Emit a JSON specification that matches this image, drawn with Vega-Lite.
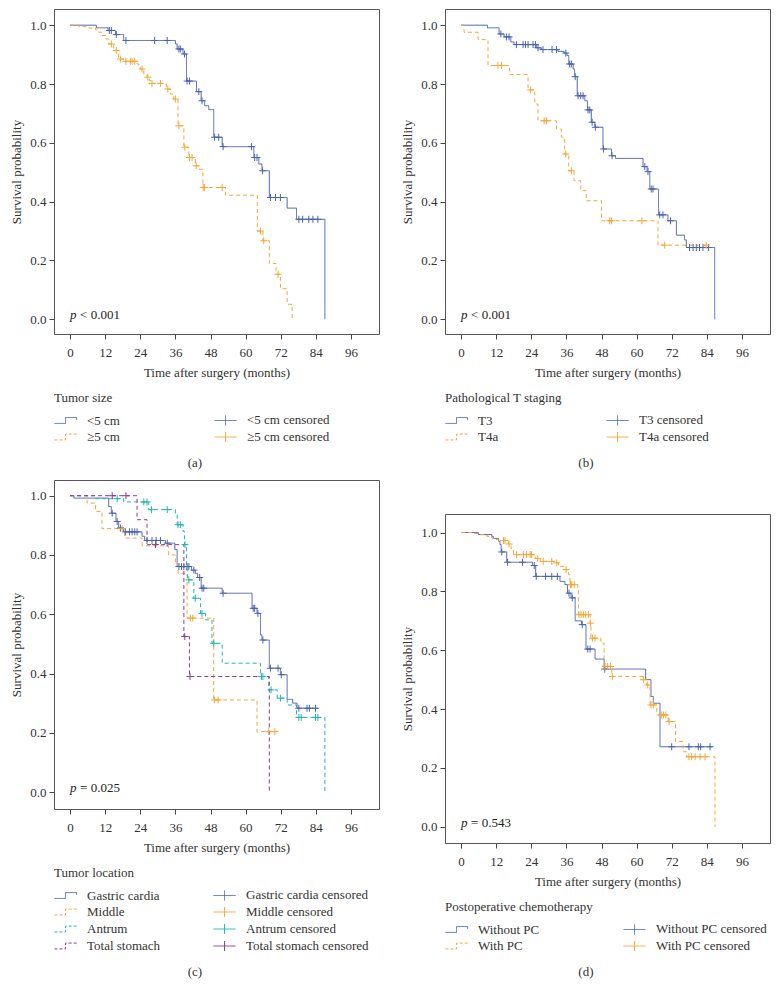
{
"$schema": "https://vega.github.io/schema/vega-lite/v6.json",
"background": "white",
"padding": {"left": 10, "top": 8, "right": 4, "bottom": 4},
"config": {
  "font": "Liberation Serif",
  "view": {"stroke": "#555", "strokeWidth": 1},
  "axis": {"domain": false, "grid": false, "tickColor": "#444", "tickSize": 5, "labelFontSize": 13, "labelColor": "#333", "titleFontSize": 13, "titleFontWeight": "normal", "titleColor": "#333", "labelPadding": 3, "titlePadding": 6},
  "axisX": {"labelPadding": 7, "titlePadding": 7},
  "legend": {"titleFontSize": 13, "titleFontWeight": "normal", "titleColor": "#333", "labelFontSize": 13, "labelColor": "#333", "rowPadding": 1, "labelOffset": 19, "titlePadding": 8, "offset": 13, "symbolSize": 169, "symbolStrokeWidth": 1},
  "title": {"fontSize": 13, "fontWeight": "normal", "color": "#333", "orient": "bottom", "anchor": "middle", "offset": 12, "frame": "bounds"},
  "text": {"fontSize": 13, "color": "#222", "font": "Liberation Serif"}
},
"resolve": {"scale": {"color": "independent", "strokeDash": "independent"}, "legend": {"color": "independent", "strokeDash": "independent"}},
"datasets": {
  "ac": [
    {"g":"<5 cm","t":0,"s":1},{"g":"<5 cm","t":9.0,"s":0.991},{"g":"<5 cm","t":13.0,"s":0.982},{"g":"<5 cm","t":15.5,"s":0.968},{"g":"<5 cm","t":18.3,"s":0.948},{"g":"<5 cm","t":36.0,"s":0.936},{"g":"<5 cm","t":36.6,"s":0.919},{"g":"<5 cm","t":38.6,"s":0.902},{"g":"<5 cm","t":39.8,"s":0.81},{"g":"<5 cm","t":43.2,"s":0.774},{"g":"<5 cm","t":44.8,"s":0.743},{"g":"<5 cm","t":46.0,"s":0.726},{"g":"<5 cm","t":47.4,"s":0.713},{"g":"<5 cm","t":49.1,"s":0.619},{"g":"<5 cm","t":52.0,"s":0.587},{"g":"<5 cm","t":62.8,"s":0.55},{"g":"<5 cm","t":64.5,"s":0.528},{"g":"<5 cm","t":65.6,"s":0.505},{"g":"<5 cm","t":68.1,"s":0.414},{"g":"<5 cm","t":74.2,"s":0.378},{"g":"<5 cm","t":77.4,"s":0.34},{"g":"<5 cm","t":87.1,"s":0},
    {"g":"≥5 cm","t":0,"s":1},{"g":"≥5 cm","t":3.0,"s":0.995},{"g":"≥5 cm","t":6.4,"s":0.99},{"g":"≥5 cm","t":8.7,"s":0.984},{"g":"≥5 cm","t":9.8,"s":0.976},{"g":"≥5 cm","t":10.9,"s":0.965},{"g":"≥5 cm","t":12.1,"s":0.953},{"g":"≥5 cm","t":13.2,"s":0.936},{"g":"≥5 cm","t":14.9,"s":0.914},{"g":"≥5 cm","t":16.6,"s":0.885},{"g":"≥5 cm","t":18.3,"s":0.877},{"g":"≥5 cm","t":22.9,"s":0.868},{"g":"≥5 cm","t":23.5,"s":0.859},{"g":"≥5 cm","t":24.0,"s":0.851},{"g":"≥5 cm","t":25.2,"s":0.834},{"g":"≥5 cm","t":26.3,"s":0.823},{"g":"≥5 cm","t":27.1,"s":0.812},{"g":"≥5 cm","t":27.7,"s":0.802},{"g":"≥5 cm","t":32.9,"s":0.783},{"g":"≥5 cm","t":34.3,"s":0.766},{"g":"≥5 cm","t":35.4,"s":0.749},{"g":"≥5 cm","t":36.9,"s":0.658},{"g":"≥5 cm","t":38.9,"s":0.585},{"g":"≥5 cm","t":40.6,"s":0.55},{"g":"≥5 cm","t":42.8,"s":0.522},{"g":"≥5 cm","t":44.0,"s":0.51},{"g":"≥5 cm","t":45.4,"s":0.448},{"g":"≥5 cm","t":53.1,"s":0.422},{"g":"≥5 cm","t":64.0,"s":0.30},{"g":"≥5 cm","t":65.9,"s":0.267},{"g":"≥5 cm","t":68.1,"s":0.19},{"g":"≥5 cm","t":70.4,"s":0.153},{"g":"≥5 cm","t":71.9,"s":0.104},{"g":"≥5 cm","t":74.2,"s":0.051},{"g":"≥5 cm","t":75.9,"s":0}
  ],
  "ax": [
    {"g":"<5 cm censored","t":13.4,"s":0.982},{"g":"<5 cm censored","t":14.1,"s":0.982},{"g":"<5 cm censored","t":15.8,"s":0.968},{"g":"<5 cm censored","t":19.1,"s":0.948},{"g":"<5 cm censored","t":28.9,"s":0.948},{"g":"<5 cm censored","t":33.2,"s":0.948},{"g":"<5 cm censored","t":37.2,"s":0.919},{"g":"<5 cm censored","t":37.7,"s":0.919},{"g":"<5 cm censored","t":39.1,"s":0.902},{"g":"<5 cm censored","t":40.0,"s":0.81},{"g":"<5 cm censored","t":40.8,"s":0.81},{"g":"<5 cm censored","t":44.0,"s":0.774},{"g":"<5 cm censored","t":45.1,"s":0.743},{"g":"<5 cm censored","t":49.4,"s":0.619},{"g":"<5 cm censored","t":50.8,"s":0.619},{"g":"<5 cm censored","t":52.3,"s":0.587},{"g":"<5 cm censored","t":62.0,"s":0.587},{"g":"<5 cm censored","t":63.1,"s":0.55},{"g":"<5 cm censored","t":63.9,"s":0.55},{"g":"<5 cm censored","t":65.8,"s":0.505},{"g":"<5 cm censored","t":68.5,"s":0.414},{"g":"<5 cm censored","t":70.2,"s":0.414},{"g":"<5 cm censored","t":71.9,"s":0.414},{"g":"<5 cm censored","t":78.2,"s":0.34},{"g":"<5 cm censored","t":79.5,"s":0.34},{"g":"<5 cm censored","t":81.6,"s":0.34},{"g":"<5 cm censored","t":83.0,"s":0.34},{"g":"<5 cm censored","t":84.7,"s":0.34},
    {"g":"≥5 cm censored","t":14.1,"s":0.936},{"g":"≥5 cm censored","t":15.8,"s":0.914},{"g":"≥5 cm censored","t":17.2,"s":0.885},{"g":"≥5 cm censored","t":19.1,"s":0.877},{"g":"≥5 cm censored","t":20.6,"s":0.877},{"g":"≥5 cm censored","t":21.2,"s":0.877},{"g":"≥5 cm censored","t":22.1,"s":0.877},{"g":"≥5 cm censored","t":24.6,"s":0.851},{"g":"≥5 cm censored","t":26.6,"s":0.823},{"g":"≥5 cm censored","t":28.0,"s":0.802},{"g":"≥5 cm censored","t":30.9,"s":0.802},{"g":"≥5 cm censored","t":33.4,"s":0.783},{"g":"≥5 cm censored","t":36.0,"s":0.749},{"g":"≥5 cm censored","t":37.2,"s":0.658},{"g":"≥5 cm censored","t":39.2,"s":0.585},{"g":"≥5 cm censored","t":40.8,"s":0.55},{"g":"≥5 cm censored","t":41.7,"s":0.55},{"g":"≥5 cm censored","t":43.1,"s":0.522},{"g":"≥5 cm censored","t":45.5,"s":0.448},{"g":"≥5 cm censored","t":46.0,"s":0.448},{"g":"≥5 cm censored","t":52.0,"s":0.448},{"g":"≥5 cm censored","t":65.1,"s":0.30},{"g":"≥5 cm censored","t":66.2,"s":0.267},{"g":"≥5 cm censored","t":71.1,"s":0.153}
  ],
  "bc": [
    {"g":"T3","t":0,"s":1},{"g":"T3","t":9.0,"s":0.991},{"g":"T3","t":13.0,"s":0.97},{"g":"T3","t":14.7,"s":0.96},{"g":"T3","t":17.0,"s":0.943},{"g":"T3","t":18.1,"s":0.934},{"g":"T3","t":25.7,"s":0.923},{"g":"T3","t":27.4,"s":0.917},{"g":"T3","t":33.1,"s":0.911},{"g":"T3","t":35.2,"s":0.905},{"g":"T3","t":36.2,"s":0.897},{"g":"T3","t":36.8,"s":0.868},{"g":"T3","t":38.3,"s":0.851},{"g":"T3","t":38.8,"s":0.825},{"g":"T3","t":39.7,"s":0.76},{"g":"T3","t":42.3,"s":0.743},{"g":"T3","t":43.2,"s":0.712},{"g":"T3","t":44.5,"s":0.67},{"g":"T3","t":45.7,"s":0.653},{"g":"T3","t":48.5,"s":0.579},{"g":"T3","t":51.4,"s":0.556},{"g":"T3","t":52.8,"s":0.547},{"g":"T3","t":62.2,"s":0.519},{"g":"T3","t":63.6,"s":0.502},{"g":"T3","t":64.5,"s":0.443},{"g":"T3","t":67.5,"s":0.355},{"g":"T3","t":70.7,"s":0.335},{"g":"T3","t":73.6,"s":0.286},{"g":"T3","t":76.4,"s":0.27},{"g":"T3","t":77.0,"s":0.244},{"g":"T3","t":86.7,"s":0},
    {"g":"T4a","t":0,"s":1},{"g":"T4a","t":1.0,"s":0.976},{"g":"T4a","t":5.8,"s":0.951},{"g":"T4a","t":9.2,"s":0.863},{"g":"T4a","t":16.6,"s":0.832},{"g":"T4a","t":22.9,"s":0.78},{"g":"T4a","t":25.2,"s":0.732},{"g":"T4a","t":26.3,"s":0.675},{"g":"T4a","t":32.6,"s":0.647},{"g":"T4a","t":34.3,"s":0.619},{"g":"T4a","t":35.4,"s":0.562},{"g":"T4a","t":36.8,"s":0.505},{"g":"T4a","t":38.6,"s":0.471},{"g":"T4a","t":40.9,"s":0.437},{"g":"T4a","t":42.8,"s":0.403},{"g":"T4a","t":48.0,"s":0.335},{"g":"T4a","t":67.3,"s":0.252},{"g":"T4a","t":84.6,"s":0.252}
  ],
  "bx": [
    {"g":"T3 censored","t":13.6,"s":0.97},{"g":"T3 censored","t":15.5,"s":0.96},{"g":"T3 censored","t":16.4,"s":0.96},{"g":"T3 censored","t":18.9,"s":0.934},{"g":"T3 censored","t":21.2,"s":0.934},{"g":"T3 censored","t":22.0,"s":0.934},{"g":"T3 censored","t":22.9,"s":0.934},{"g":"T3 censored","t":24.6,"s":0.934},{"g":"T3 censored","t":25.4,"s":0.934},{"g":"T3 censored","t":26.3,"s":0.923},{"g":"T3 censored","t":28.0,"s":0.917},{"g":"T3 censored","t":31.1,"s":0.917},{"g":"T3 censored","t":32.6,"s":0.917},{"g":"T3 censored","t":35.8,"s":0.905},{"g":"T3 censored","t":37.1,"s":0.868},{"g":"T3 censored","t":37.7,"s":0.868},{"g":"T3 censored","t":39.0,"s":0.825},{"g":"T3 censored","t":40.0,"s":0.76},{"g":"T3 censored","t":40.9,"s":0.76},{"g":"T3 censored","t":41.7,"s":0.76},{"g":"T3 censored","t":43.4,"s":0.712},{"g":"T3 censored","t":44.0,"s":0.712},{"g":"T3 censored","t":44.8,"s":0.67},{"g":"T3 censored","t":45.9,"s":0.653},{"g":"T3 censored","t":48.7,"s":0.579},{"g":"T3 censored","t":51.6,"s":0.556},{"g":"T3 censored","t":62.8,"s":0.519},{"g":"T3 censored","t":63.9,"s":0.502},{"g":"T3 censored","t":65.0,"s":0.443},{"g":"T3 censored","t":65.6,"s":0.443},{"g":"T3 censored","t":67.9,"s":0.355},{"g":"T3 censored","t":69.0,"s":0.355},{"g":"T3 censored","t":71.6,"s":0.335},{"g":"T3 censored","t":78.1,"s":0.244},{"g":"T3 censored","t":79.3,"s":0.244},{"g":"T3 censored","t":80.4,"s":0.244},{"g":"T3 censored","t":81.5,"s":0.244},{"g":"T3 censored","t":82.7,"s":0.244},{"g":"T3 censored","t":84.6,"s":0.244},
    {"g":"T4a censored","t":12.6,"s":0.863},{"g":"T4a censored","t":13.8,"s":0.863},{"g":"T4a censored","t":23.8,"s":0.78},{"g":"T4a censored","t":28.4,"s":0.675},{"g":"T4a censored","t":29.2,"s":0.675},{"g":"T4a censored","t":35.8,"s":0.562},{"g":"T4a censored","t":37.7,"s":0.505},{"g":"T4a censored","t":50.8,"s":0.335},{"g":"T4a censored","t":51.4,"s":0.335},{"g":"T4a censored","t":61.8,"s":0.335},{"g":"T4a censored","t":69.6,"s":0.252},{"g":"T4a censored","t":83.8,"s":0.252}
  ],
  "cc": [
    {"g":"Gastric cardia","t":0,"s":1},{"g":"Gastric cardia","t":1.3,"s":0.992},{"g":"Gastric cardia","t":13.2,"s":0.963},{"g":"Gastric cardia","t":14.1,"s":0.941},{"g":"Gastric cardia","t":15.7,"s":0.913},{"g":"Gastric cardia","t":16.6,"s":0.891},{"g":"Gastric cardia","t":18.3,"s":0.878},{"g":"Gastric cardia","t":24.6,"s":0.863},{"g":"Gastric cardia","t":25.5,"s":0.849},{"g":"Gastric cardia","t":32.6,"s":0.84},{"g":"Gastric cardia","t":35.8,"s":0.818},{"g":"Gastric cardia","t":36.6,"s":0.761},{"g":"Gastric cardia","t":41.5,"s":0.749},{"g":"Gastric cardia","t":42.8,"s":0.738},{"g":"Gastric cardia","t":43.6,"s":0.724},{"g":"Gastric cardia","t":44.8,"s":0.688},{"g":"Gastric cardia","t":52.0,"s":0.671},{"g":"Gastric cardia","t":62.2,"s":0.62},{"g":"Gastric cardia","t":63.9,"s":0.603},{"g":"Gastric cardia","t":65.1,"s":0.53},{"g":"Gastric cardia","t":65.6,"s":0.513},{"g":"Gastric cardia","t":68.1,"s":0.418},{"g":"Gastric cardia","t":71.9,"s":0.396},{"g":"Gastric cardia","t":74.2,"s":0.313},{"g":"Gastric cardia","t":76.1,"s":0.3},{"g":"Gastric cardia","t":77.6,"s":0.283},{"g":"Gastric cardia","t":84.7,"s":0.283},
    {"g":"Middle","t":0,"s":1},{"g":"Middle","t":5.8,"s":0.975},{"g":"Middle","t":8.7,"s":0.947},{"g":"Middle","t":10.9,"s":0.889},{"g":"Middle","t":18.7,"s":0.857},{"g":"Middle","t":24.6,"s":0.831},{"g":"Middle","t":33.7,"s":0.8},{"g":"Middle","t":36.0,"s":0.772},{"g":"Middle","t":36.9,"s":0.738},{"g":"Middle","t":40.0,"s":0.587},{"g":"Middle","t":49.1,"s":0.311},{"g":"Middle","t":63.9,"s":0.204},{"g":"Middle","t":70.8,"s":0.204},
    {"g":"Antrum","t":0,"s":1},{"g":"Antrum","t":8.7,"s":0.99},{"g":"Antrum","t":18.3,"s":0.979},{"g":"Antrum","t":26.9,"s":0.953},{"g":"Antrum","t":36.0,"s":0.936},{"g":"Antrum","t":36.6,"s":0.902},{"g":"Antrum","t":38.6,"s":0.88},{"g":"Antrum","t":39.1,"s":0.835},{"g":"Antrum","t":39.8,"s":0.749},{"g":"Antrum","t":40.2,"s":0.716},{"g":"Antrum","t":42.3,"s":0.654},{"g":"Antrum","t":44.6,"s":0.603},{"g":"Antrum","t":46.3,"s":0.581},{"g":"Antrum","t":48.5,"s":0.502},{"g":"Antrum","t":52.0,"s":0.435},{"g":"Antrum","t":65.1,"s":0.39},{"g":"Antrum","t":67.9,"s":0.345},{"g":"Antrum","t":70.8,"s":0.317},{"g":"Antrum","t":74.2,"s":0.294},{"g":"Antrum","t":77.4,"s":0.252},{"g":"Antrum","t":87.1,"s":0},
    {"g":"Total stomach","t":0,"s":1},{"g":"Total stomach","t":22.9,"s":0.919},{"g":"Total stomach","t":26.3,"s":0.835},{"g":"Total stomach","t":38.9,"s":0.525},{"g":"Total stomach","t":40.8,"s":0.39},{"g":"Total stomach","t":68.1,"s":0}
  ],
  "cx": [
    {"g":"Gastric cardia censored","t":14.4,"s":0.941},{"g":"Gastric cardia censored","t":16.1,"s":0.913},{"g":"Gastric cardia censored","t":17.2,"s":0.891},{"g":"Gastric cardia censored","t":18.9,"s":0.878},{"g":"Gastric cardia censored","t":20.3,"s":0.878},{"g":"Gastric cardia censored","t":21.2,"s":0.878},{"g":"Gastric cardia censored","t":22.1,"s":0.878},{"g":"Gastric cardia censored","t":22.9,"s":0.878},{"g":"Gastric cardia censored","t":26.3,"s":0.849},{"g":"Gastric cardia censored","t":28.0,"s":0.849},{"g":"Gastric cardia censored","t":29.4,"s":0.849},{"g":"Gastric cardia censored","t":30.9,"s":0.849},{"g":"Gastric cardia censored","t":33.2,"s":0.84},{"g":"Gastric cardia censored","t":37.2,"s":0.761},{"g":"Gastric cardia censored","t":38.1,"s":0.761},{"g":"Gastric cardia censored","t":38.9,"s":0.761},{"g":"Gastric cardia censored","t":40.0,"s":0.761},{"g":"Gastric cardia censored","t":40.6,"s":0.761},{"g":"Gastric cardia censored","t":42.3,"s":0.749},{"g":"Gastric cardia censored","t":44.3,"s":0.724},{"g":"Gastric cardia censored","t":45.1,"s":0.688},{"g":"Gastric cardia censored","t":45.7,"s":0.688},{"g":"Gastric cardia censored","t":52.3,"s":0.671},{"g":"Gastric cardia censored","t":62.6,"s":0.62},{"g":"Gastric cardia censored","t":63.1,"s":0.62},{"g":"Gastric cardia censored","t":64.2,"s":0.603},{"g":"Gastric cardia censored","t":65.9,"s":0.513},{"g":"Gastric cardia censored","t":68.5,"s":0.418},{"g":"Gastric cardia censored","t":71.1,"s":0.418},{"g":"Gastric cardia censored","t":72.2,"s":0.396},{"g":"Gastric cardia censored","t":78.2,"s":0.283},{"g":"Gastric cardia censored","t":81.0,"s":0.283},{"g":"Gastric cardia censored","t":81.8,"s":0.283},{"g":"Gastric cardia censored","t":83.9,"s":0.283},
    {"g":"Middle censored","t":17.8,"s":0.889},{"g":"Middle censored","t":41.1,"s":0.587},{"g":"Middle censored","t":41.9,"s":0.587},{"g":"Middle censored","t":49.4,"s":0.311},{"g":"Middle censored","t":50.6,"s":0.311},{"g":"Middle censored","t":67.9,"s":0.204},{"g":"Middle censored","t":70.0,"s":0.204},
    {"g":"Antrum censored","t":16.1,"s":0.99},{"g":"Antrum censored","t":25.2,"s":0.979},{"g":"Antrum censored","t":26.3,"s":0.979},{"g":"Antrum censored","t":27.8,"s":0.953},{"g":"Antrum censored","t":33.2,"s":0.953},{"g":"Antrum censored","t":36.9,"s":0.902},{"g":"Antrum censored","t":37.7,"s":0.902},{"g":"Antrum censored","t":39.3,"s":0.835},{"g":"Antrum censored","t":40.6,"s":0.716},{"g":"Antrum censored","t":42.8,"s":0.654},{"g":"Antrum censored","t":45.1,"s":0.603},{"g":"Antrum censored","t":49.1,"s":0.502},{"g":"Antrum censored","t":65.4,"s":0.39},{"g":"Antrum censored","t":65.9,"s":0.39},{"g":"Antrum censored","t":68.7,"s":0.345},{"g":"Antrum censored","t":71.9,"s":0.317},{"g":"Antrum censored","t":78.2,"s":0.252},{"g":"Antrum censored","t":79.0,"s":0.252},{"g":"Antrum censored","t":83.9,"s":0.252},{"g":"Antrum censored","t":84.7,"s":0.252},
    {"g":"Total stomach censored","t":14.4,"s":1},{"g":"Total stomach censored","t":19.1,"s":1},{"g":"Total stomach censored","t":29.2,"s":0.835},{"g":"Total stomach censored","t":39.2,"s":0.525},{"g":"Total stomach censored","t":41.0,"s":0.39}
  ],
  "dc": [
    {"g":"Without PC","t":0,"s":1},{"g":"Without PC","t":5.9,"s":0.993},{"g":"Without PC","t":10.5,"s":0.987},{"g":"Without PC","t":11.0,"s":0.98},{"g":"Without PC","t":12.8,"s":0.97},{"g":"Without PC","t":13.3,"s":0.959},{"g":"Without PC","t":13.7,"s":0.934},{"g":"Without PC","t":15.6,"s":0.899},{"g":"Without PC","t":24.4,"s":0.888},{"g":"Without PC","t":25.5,"s":0.851},{"g":"Without PC","t":33.8,"s":0.834},{"g":"Without PC","t":35.5,"s":0.823},{"g":"Without PC","t":36.4,"s":0.794},{"g":"Without PC","t":37.6,"s":0.778},{"g":"Without PC","t":39.0,"s":0.70},{"g":"Without PC","t":41.2,"s":0.687},{"g":"Without PC","t":42.7,"s":0.604},{"g":"Without PC","t":45.8,"s":0.57},{"g":"Without PC","t":48.9,"s":0.536},{"g":"Without PC","t":63.1,"s":0.50},{"g":"Without PC","t":64.9,"s":0.443},{"g":"Without PC","t":65.7,"s":0.42},{"g":"Without PC","t":68.0,"s":0.272},{"g":"Without PC","t":85.9,"s":0.272},
    {"g":"With PC","t":0,"s":1},{"g":"With PC","t":3.6,"s":0.997},{"g":"With PC","t":5.9,"s":0.993},{"g":"With PC","t":8.8,"s":0.987},{"g":"With PC","t":10.5,"s":0.98},{"g":"With PC","t":11.6,"s":0.976},{"g":"With PC","t":12.8,"s":0.973},{"g":"With PC","t":16.2,"s":0.961},{"g":"With PC","t":17.1,"s":0.942},{"g":"With PC","t":17.9,"s":0.925},{"g":"With PC","t":25.3,"s":0.912},{"g":"With PC","t":27.0,"s":0.902},{"g":"With PC","t":32.1,"s":0.897},{"g":"With PC","t":33.3,"s":0.885},{"g":"With PC","t":35.2,"s":0.874},{"g":"With PC","t":36.7,"s":0.857},{"g":"With PC","t":37.2,"s":0.823},{"g":"With PC","t":39.9,"s":0.806},{"g":"With PC","t":40.1,"s":0.721},{"g":"With PC","t":44.1,"s":0.692},{"g":"With PC","t":44.4,"s":0.641},{"g":"With PC","t":47.8,"s":0.624},{"g":"With PC","t":48.9,"s":0.545},{"g":"With PC","t":51.5,"s":0.511},{"g":"With PC","t":62.0,"s":0.5},{"g":"With PC","t":63.4,"s":0.482},{"g":"With PC","t":64.6,"s":0.414},{"g":"With PC","t":66.9,"s":0.38},{"g":"With PC","t":70.8,"s":0.358},{"g":"With PC","t":73.3,"s":0.29},{"g":"With PC","t":75.9,"s":0.255},{"g":"With PC","t":77.1,"s":0.238},{"g":"With PC","t":86.8,"s":0}
  ],
  "dx": [
    {"g":"Without PC censored","t":13.9,"s":0.934},{"g":"Without PC censored","t":15.9,"s":0.899},{"g":"Without PC censored","t":21.0,"s":0.899},{"g":"Without PC censored","t":25.0,"s":0.888},{"g":"Without PC censored","t":25.7,"s":0.851},{"g":"Without PC censored","t":28.9,"s":0.851},{"g":"Without PC censored","t":31.0,"s":0.851},{"g":"Without PC censored","t":32.9,"s":0.851},{"g":"Without PC censored","t":36.9,"s":0.794},{"g":"Without PC censored","t":38.0,"s":0.778},{"g":"Without PC censored","t":41.4,"s":0.687},{"g":"Without PC censored","t":43.3,"s":0.604},{"g":"Without PC censored","t":44.1,"s":0.604},{"g":"Without PC censored","t":49.1,"s":0.536},{"g":"Without PC censored","t":72.0,"s":0.272},{"g":"Without PC censored","t":77.9,"s":0.272},{"g":"Without PC censored","t":81.1,"s":0.272},{"g":"Without PC censored","t":81.9,"s":0.272},{"g":"Without PC censored","t":85.1,"s":0.272},
    {"g":"With PC censored","t":14.5,"s":0.973},{"g":"With PC censored","t":15.0,"s":0.973},{"g":"With PC censored","t":16.4,"s":0.961},{"g":"With PC censored","t":19.0,"s":0.925},{"g":"With PC censored","t":21.3,"s":0.925},{"g":"With PC censored","t":22.4,"s":0.925},{"g":"With PC censored","t":23.6,"s":0.925},{"g":"With PC censored","t":24.1,"s":0.925},{"g":"With PC censored","t":26.2,"s":0.912},{"g":"With PC censored","t":28.1,"s":0.902},{"g":"With PC censored","t":31.0,"s":0.902},{"g":"With PC censored","t":32.7,"s":0.897},{"g":"With PC censored","t":35.9,"s":0.874},{"g":"With PC censored","t":37.4,"s":0.823},{"g":"With PC censored","t":37.8,"s":0.823},{"g":"With PC censored","t":38.7,"s":0.823},{"g":"With PC censored","t":40.3,"s":0.721},{"g":"With PC censored","t":41.0,"s":0.721},{"g":"With PC censored","t":41.8,"s":0.721},{"g":"With PC censored","t":42.6,"s":0.721},{"g":"With PC censored","t":43.5,"s":0.721},{"g":"With PC censored","t":44.2,"s":0.692},{"g":"With PC censored","t":44.9,"s":0.641},{"g":"With PC censored","t":45.8,"s":0.641},{"g":"With PC censored","t":49.2,"s":0.545},{"g":"With PC censored","t":50.1,"s":0.545},{"g":"With PC censored","t":51.1,"s":0.545},{"g":"With PC censored","t":51.7,"s":0.511},{"g":"With PC censored","t":62.3,"s":0.5},{"g":"With PC censored","t":63.8,"s":0.482},{"g":"With PC censored","t":64.9,"s":0.414},{"g":"With PC censored","t":65.7,"s":0.414},{"g":"With PC censored","t":68.6,"s":0.38},{"g":"With PC censored","t":69.2,"s":0.38},{"g":"With PC censored","t":70.0,"s":0.38},{"g":"With PC censored","t":71.1,"s":0.358},{"g":"With PC censored","t":77.9,"s":0.238},{"g":"With PC censored","t":78.8,"s":0.238},{"g":"With PC censored","t":80.0,"s":0.238},{"g":"With PC censored","t":81.7,"s":0.238},{"g":"With PC censored","t":83.4,"s":0.238}
  ]
},
"spacing": 21,
"hconcat": [
 {"spacing": 8,
  "resolve": {"scale": {"color": "independent", "strokeDash": "independent"}, "legend": {"color": "independent", "strokeDash": "independent"}},
  "vconcat": [
  {"width": 325, "height": 325, "title": {"text": "(a)"},
   "layer": [
    {"data": {"name": "ac"}, "mark": {"type": "line", "interpolate": "step-after", "strokeWidth": 1},
     "encoding": {
      "x": {"field": "t", "type": "quantitative", "scale": {"domain": [-5.5, 105.6], "nice": false, "zero": false}, "axis": {"values": [0,12,24,36,48,60,72,84,96], "title": "Time after surgery (months)"}},
      "y": {"field": "s", "type": "quantitative", "scale": {"domain": [-0.05, 1.055], "nice": false}, "axis": {"values": [0,0.2,0.4,0.6,0.8,1], "format": ".1f", "title": "Survival probability"}},
      "color": {"field": "g", "type": "nominal", "scale": {"domain": ["<5 cm", "≥5 cm", "<5 cm censored", "≥5 cm censored"], "range": ["#4a63ad", "#f4a63a", "#4a63ad", "#f4a63a"]},
        "legend": {"title": "Tumor size", "orient": "bottom", "columns": 2, "direction": "vertical", "columnPadding": 92,
          "encode": {"symbols": {"update": {
            "shape": {"signal": "indexof(datum.value,'censored')>=0 ? 'M-1,0H2.4M0.7,-0.77V0.77' : 'M-1,0.45H0.7V-0.45H2.4V-0.1'"},
            "strokeDash": {"signal": "(datum.value=='<5 cm' || indexof(datum.value,'censored')>=0) ? [1,0] : [3,2]"},
            "fill": {"value": "transparent"}, "strokeWidth": {"value": 1}, "size": {"value": 169}}}}}},
      "strokeDash": {"field": "g", "type": "nominal", "scale": {"domain": ["<5 cm", "≥5 cm"], "range": [[1,0],[4,3]]}, "legend": null}
     }},
    {"data": {"name": "ax"}, "mark": {"type": "point", "shape": "M-1,0H1M0,-1V1", "size": 49, "filled": false, "strokeWidth": 1, "opacity": 1},
     "encoding": {"x": {"field": "t", "type": "quantitative"}, "y": {"field": "s", "type": "quantitative"}, "color": {"field": "g", "type": "nominal"}}},
    {"data": {"values": [{}]}, "mark": {"type": "text", "text": "p", "fontStyle": "italic", "align": "left", "baseline": "alphabetic"},
     "encoding": {"x": {"datum": 0, "type": "quantitative"}, "y": {"datum": 0, "type": "quantitative"}}},
    {"data": {"values": [{}]}, "mark": {"type": "text", "text": "< 0.001", "align": "left", "baseline": "alphabetic", "dx": 10},
     "encoding": {"x": {"datum": 0, "type": "quantitative"}, "y": {"datum": 0, "type": "quantitative"}}}
   ]},
  {"width": 325, "height": 329, "title": {"text": "(c)"},
   "layer": [
    {"data": {"name": "cc"}, "mark": {"type": "line", "interpolate": "step-after", "strokeWidth": 1},
     "encoding": {
      "x": {"field": "t", "type": "quantitative", "scale": {"domain": [-5.5, 105.6], "nice": false, "zero": false}, "axis": {"values": [0,12,24,36,48,60,72,84,96], "title": "Time after surgery (months)"}},
      "y": {"field": "s", "type": "quantitative", "scale": {"domain": [-0.057, 1.053], "nice": false}, "axis": {"values": [0,0.2,0.4,0.6,0.8,1], "format": ".1f", "title": "Survival probability"}},
      "color": {"field": "g", "type": "nominal", "scale": {"domain": ["Gastric cardia", "Middle", "Antrum", "Total stomach", "Gastric cardia censored", "Middle censored", "Antrum censored", "Total stomach censored"], "range": ["#4a63ad", "#f4a63a", "#27b3b3", "#8a3c97", "#4a63ad", "#f4a63a", "#27b3b3", "#8a3c97"]},
        "legend": {"title": "Tumor location", "orient": "bottom", "columns": 2, "direction": "vertical", "columnPadding": 50,
          "encode": {"symbols": {"update": {
            "shape": {"signal": "indexof(datum.value,'censored')>=0 ? 'M-1,0H2.4M0.7,-0.77V0.77' : 'M-1,0.45H0.7V-0.45H2.4V-0.1'"},
            "strokeDash": {"signal": "(datum.value=='Gastric cardia' || indexof(datum.value,'censored')>=0) ? [1,0] : [3,2]"},
            "fill": {"value": "transparent"}, "strokeWidth": {"value": 1}, "size": {"value": 169}}}}}},
      "strokeDash": {"field": "g", "type": "nominal", "scale": {"domain": ["Gastric cardia", "Middle", "Antrum", "Total stomach"], "range": [[1,0],[4,3],[4,3],[4,3]]}, "legend": null}
     }},
    {"data": {"name": "cx"}, "mark": {"type": "point", "shape": "M-1,0H1M0,-1V1", "size": 49, "filled": false, "strokeWidth": 1, "opacity": 1},
     "encoding": {"x": {"field": "t", "type": "quantitative"}, "y": {"field": "s", "type": "quantitative"}, "color": {"field": "g", "type": "nominal"}}},
    {"data": {"values": [{}]}, "mark": {"type": "text", "text": "p", "fontStyle": "italic", "align": "left", "baseline": "alphabetic"},
     "encoding": {"x": {"datum": 0, "type": "quantitative"}, "y": {"datum": 0, "type": "quantitative"}}},
    {"data": {"values": [{}]}, "mark": {"type": "text", "text": "= 0.025", "align": "left", "baseline": "alphabetic", "dx": 10},
     "encoding": {"x": {"datum": 0, "type": "quantitative"}, "y": {"datum": 0, "type": "quantitative"}}}
   ]}
 ]},
 {"spacing": 42,
  "resolve": {"scale": {"color": "independent", "strokeDash": "independent"}, "legend": {"color": "independent", "strokeDash": "independent"}},
  "vconcat": [
  {"width": 325, "height": 325, "title": {"text": "(b)"},
   "layer": [
    {"data": {"name": "bc"}, "mark": {"type": "line", "interpolate": "step-after", "strokeWidth": 1},
     "encoding": {
      "x": {"field": "t", "type": "quantitative", "scale": {"domain": [-5.5, 105.6], "nice": false, "zero": false}, "axis": {"values": [0,12,24,36,48,60,72,84,96], "title": "Time after surgery (months)"}},
      "y": {"field": "s", "type": "quantitative", "scale": {"domain": [-0.05, 1.055], "nice": false}, "axis": {"values": [0,0.2,0.4,0.6,0.8,1], "format": ".1f", "title": "Survival probability"}},
      "color": {"field": "g", "type": "nominal", "scale": {"domain": ["T3", "T4a", "T3 censored", "T4a censored"], "range": ["#4a63ad", "#f4a63a", "#4a63ad", "#f4a63a"]},
        "legend": {"title": "Pathological T staging", "orient": "bottom", "columns": 2, "direction": "vertical", "columnPadding": 105,
          "encode": {"symbols": {"update": {
            "shape": {"signal": "indexof(datum.value,'censored')>=0 ? 'M-1,0H2.4M0.7,-0.77V0.77' : 'M-1,0.45H0.7V-0.45H2.4V-0.1'"},
            "strokeDash": {"signal": "(datum.value=='T3' || indexof(datum.value,'censored')>=0) ? [1,0] : [3,2]"},
            "fill": {"value": "transparent"}, "strokeWidth": {"value": 1}, "size": {"value": 169}}}}}},
      "strokeDash": {"field": "g", "type": "nominal", "scale": {"domain": ["T3", "T4a"], "range": [[1,0],[4,3]]}, "legend": null}
     }},
    {"data": {"name": "bx"}, "mark": {"type": "point", "shape": "M-1,0H1M0,-1V1", "size": 49, "filled": false, "strokeWidth": 1, "opacity": 1},
     "encoding": {"x": {"field": "t", "type": "quantitative"}, "y": {"field": "s", "type": "quantitative"}, "color": {"field": "g", "type": "nominal"}}},
    {"data": {"values": [{}]}, "mark": {"type": "text", "text": "p", "fontStyle": "italic", "align": "left", "baseline": "alphabetic"},
     "encoding": {"x": {"datum": 0, "type": "quantitative"}, "y": {"datum": 0, "type": "quantitative"}}},
    {"data": {"values": [{}]}, "mark": {"type": "text", "text": "< 0.001", "align": "left", "baseline": "alphabetic", "dx": 10},
     "encoding": {"x": {"datum": 0, "type": "quantitative"}, "y": {"datum": 0, "type": "quantitative"}}}
   ]},
  {"width": 325, "height": 329, "title": {"text": "(d)"},
   "layer": [
    {"data": {"name": "dc"}, "mark": {"type": "line", "interpolate": "step-after", "strokeWidth": 1},
     "encoding": {
      "x": {"field": "t", "type": "quantitative", "scale": {"domain": [-5.5, 105.6], "nice": false, "zero": false}, "axis": {"values": [0,12,24,36,48,60,72,84,96], "title": "Time after surgery (months)"}},
      "y": {"field": "s", "type": "quantitative", "scale": {"domain": [-0.055, 1.063], "nice": false}, "axis": {"values": [0,0.2,0.4,0.6,0.8,1], "format": ".1f", "title": "Survival probability"}},
      "color": {"field": "g", "type": "nominal", "scale": {"domain": ["Without PC", "With PC", "Without PC censored", "With PC censored"], "range": ["#4a63ad", "#f4a63a", "#4a63ad", "#f4a63a"]},
        "legend": {"title": "Postoperative chemotherapy", "orient": "bottom", "columns": 2, "direction": "vertical", "columnPadding": 81,
          "encode": {"symbols": {"update": {
            "shape": {"signal": "indexof(datum.value,'censored')>=0 ? 'M-1,0H2.4M0.7,-0.77V0.77' : 'M-1,0.45H0.7V-0.45H2.4V-0.1'"},
            "strokeDash": {"signal": "(datum.value=='Without PC' || indexof(datum.value,'censored')>=0) ? [1,0] : [3,2]"},
            "fill": {"value": "transparent"}, "strokeWidth": {"value": 1}, "size": {"value": 169}}}}}},
      "strokeDash": {"field": "g", "type": "nominal", "scale": {"domain": ["Without PC", "With PC"], "range": [[1,0],[4,3]]}, "legend": null}
     }},
    {"data": {"name": "dx"}, "mark": {"type": "point", "shape": "M-1,0H1M0,-1V1", "size": 49, "filled": false, "strokeWidth": 1, "opacity": 1},
     "encoding": {"x": {"field": "t", "type": "quantitative"}, "y": {"field": "s", "type": "quantitative"}, "color": {"field": "g", "type": "nominal"}}},
    {"data": {"values": [{}]}, "mark": {"type": "text", "text": "p", "fontStyle": "italic", "align": "left", "baseline": "alphabetic"},
     "encoding": {"x": {"datum": 0, "type": "quantitative"}, "y": {"datum": 0, "type": "quantitative"}}},
    {"data": {"values": [{}]}, "mark": {"type": "text", "text": "= 0.543", "align": "left", "baseline": "alphabetic", "dx": 10},
     "encoding": {"x": {"datum": 0, "type": "quantitative"}, "y": {"datum": 0, "type": "quantitative"}}}
   ]}
 ]}
]
}
